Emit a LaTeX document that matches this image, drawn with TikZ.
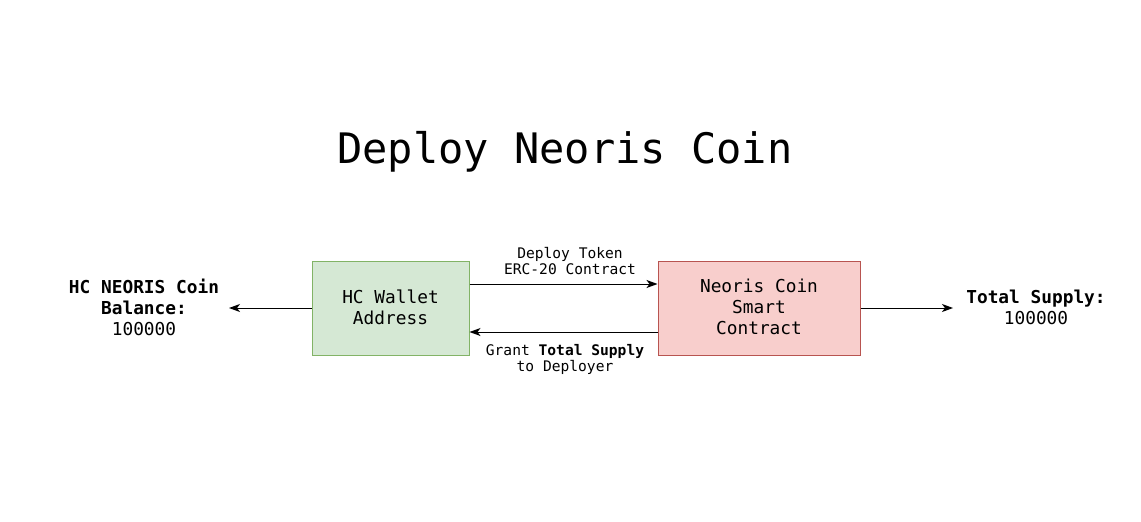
\documentclass[tikz,border=0pt]{standalone}
\usepackage{fontspec}
\setmainfont{DejaVu Sans Mono}
\usetikzlibrary{arrows.meta}
\definecolor{gfill}{HTML}{D5E8D4}
\definecolor{gdraw}{HTML}{82B366}
\definecolor{rfill}{HTML}{F8CECC}
\definecolor{rdraw}{HTML}{B85450}
\tikzset{
  boxtxt/.style={font=\fontsize{17.8}{21}\selectfont, align=center, inner sep=0pt},
  lbltxt/.style={font=\fontsize{14.6}{16}\selectfont, align=center, inner sep=0pt},
  conn/.style={draw=black, line width=1pt, -{Stealth[length=11pt,width=8pt,inset=3pt]}},
  greenbox/.style={draw=gdraw, fill=gfill, line width=1pt, minimum width=157pt, minimum height=94pt, inner sep=0pt},
  redbox/.style={draw=rdraw, fill=rfill, line width=1pt, minimum width=202pt, minimum height=94pt, inner sep=0pt},
}
\begin{document}
\begin{tikzpicture}[x=1pt,y=-1pt]
\useasboundingbox (0,0) rectangle (1141,522);
\fill[white] (0,0) rectangle (1141,522);
\node[font=\fontsize{42}{50}\selectfont, inner sep=0pt] (title) at (565,152) {Deploy Neoris Coin};
\node[greenbox] (wallet) at (390.5,308) {};
\node[boxtxt] (wallettxt) at (390.5,307) {HC Wallet\\Address};
\node[redbox] (coin) at (759,308) {};
\node[boxtxt] (cointxt) at (759,307) {Neoris Coin\\Smart\\Contract};
\node[boxtxt] (balance) at (144,307) {\textbf{HC NEORIS Coin}\\\textbf{Balance:}\\100000};
\node[boxtxt] (supply) at (1036,307) {\textbf{Total Supply:}\\100000};
\coordinate (leftend) at (229,308);
\coordinate (rightend) at (953,308);
\draw[conn] (wallet.west) -- (leftend);
\draw[conn] (coin.east) -- (rightend);
\draw[conn] (wallet.east |- 0,284) -- (coin.west |- 0,284);
\draw[conn] (coin.west |- 0,332) -- (wallet.east |- 0,332);
\node[lbltxt] (deploylbl) at (570,261) {Deploy Token\\ERC-20 Contract};
\node[lbltxt] (grantlbl) at (565,359) {Grant \textbf{Total Supply}\\to Deployer};
\end{tikzpicture}
\end{document}
